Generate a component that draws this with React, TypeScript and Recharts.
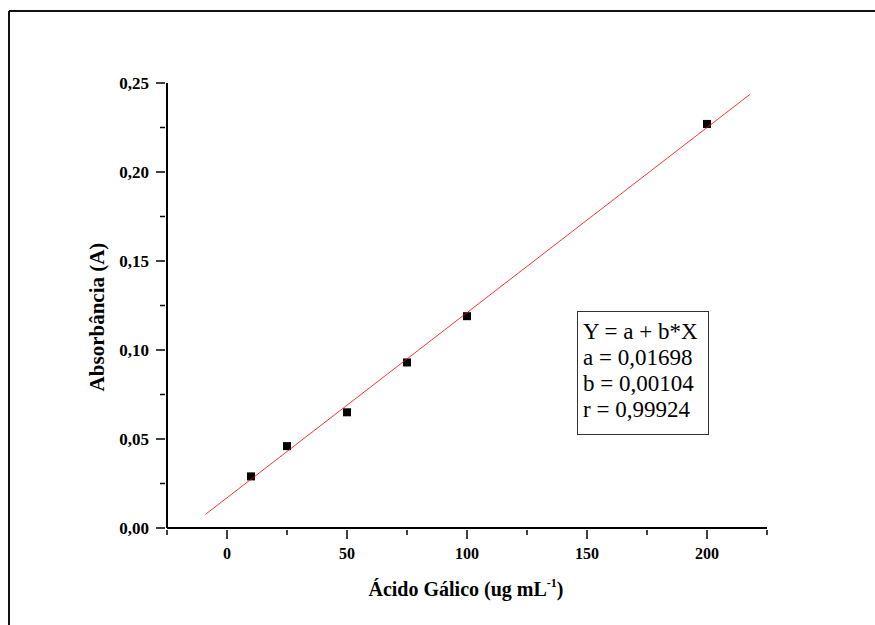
import { ScatterChart, Scatter, XAxis, YAxis } from 'recharts';

// Curva de calibração - ácido gálico
const concentracoes = [10, 25, 50, 75, 100, 200];
const absorbancias = [0.029, 0.046, 0.065, 0.093, 0.119, 0.227];

const xTicks = [-25, 0, 25, 50, 75, 100, 125, 150, 175, 200, 225];
const yTicks = [0, 0.025, 0.05, 0.075, 0.1, 0.125, 0.15, 0.175, 0.2, 0.225, 0.25];

const coefA = 0.01698;
const coefB = 0.00104;
const coefR = 0.99924;
const faixaAjuste = [-9, 218];

const pontos = concentracoes.map((x, i) => ({ x, y: absorbancias[i] }));
const retaAjuste = faixaAjuste.map((x) => ({ x, y: coefA + coefB * x }));

const serif = '"Liberation Serif", "Times New Roman", serif';
const virgula = (v: number, casas: number) => v.toFixed(casas).replace('.', ',');

const YTick = (props: any) => {
  const { x, y, payload } = props;
  const v = payload.value;
  const major = Math.round(v * 1000) % 50 === 0;
  return (
    <g>
      <line x1={x - (major ? 9 : 5)} x2={x} y1={y} y2={y} stroke="#000" strokeWidth={1.5} />
      {major && (
        <text x={x - 16} y={y} dy="0.35em" textAnchor="end" fontFamily={serif} fontWeight="bold" fontSize={17} fill="#000">
          {virgula(v, 2)}
        </text>
      )}
    </g>
  );
};

const XTick = (props: any) => {
  const { x, y, payload } = props;
  const v = payload.value;
  const major = v % 50 === 0;
  return (
    <g>
      <line x1={x} x2={x} y1={y} y2={y + (major ? 9 : 5)} stroke="#000" strokeWidth={1.5} />
      {major && (
        <text x={x} y={y + 29} textAnchor="middle" fontFamily={serif} fontWeight="bold" fontSize={16} fill="#000">
          {v}
        </text>
      )}
    </g>
  );
};

const Quadrado = (props: any) => (
  <rect x={props.cx - 4} y={props.cy - 4} width={8} height={8} fill="#000" />
);

export default function App() {
  return (
    <div style={{ position: 'fixed', left: 0, top: 0, width: 875, height: 625, overflow: 'hidden', background: '#fff' }}>
      <ScatterChart width={875} height={625} margin={{ top: 83, right: 108, bottom: 0, left: 0 }}>
        <XAxis
          dataKey="x"
          type="number"
          domain={[-25, 225]}
          ticks={xTicks}
          interval={0}
          tickSize={0}
          tickLine={false}
          height={97}
          axisLine={{ stroke: '#000', strokeWidth: 2 }}
          tick={<XTick />}
        />
        <YAxis
          dataKey="y"
          type="number"
          domain={[0, 0.25]}
          ticks={yTicks}
          interval={0}
          tickSize={0}
          tickLine={false}
          width={167}
          axisLine={{ stroke: '#000', strokeWidth: 2 }}
          tick={<YTick />}
        />
        <Scatter data={pontos} shape={<Quadrado />} isAnimationActive={false} />
        <Scatter
          data={retaAjuste}
          line={{ stroke: '#ff0000', strokeWidth: 0.8 }}
          shape={() => <g />}
          isAnimationActive={false}
        />
      </ScatterChart>

      <svg width={875} height={625} style={{ position: 'absolute', left: 0, top: 0, pointerEvents: 'none' }}>
        <line x1={9} y1={11} x2={875} y2={11} stroke="#111" strokeWidth={2} />
        <line x1={9} y1={11} x2={9} y2={625} stroke="#111" strokeWidth={2} />
        <text
          x={97}
          y={317}
          transform="rotate(-90 97 317)"
          textAnchor="middle"
          dominantBaseline="central"
          fontFamily={serif}
          fontWeight="bold"
          fontSize={21}
          fill="#000"
        >
          Absorbância (A)
        </text>
        <text x={466} y={596} textAnchor="middle" fontFamily={serif} fontWeight="bold" fontSize={20} fill="#000">
          Ácido Gálico (ug mL
          <tspan fontSize={12} dy={-9}>-1</tspan>
          <tspan dy={9}>)</tspan>
        </text>
        <rect x={577.5} y={311.5} width={131} height={123} fill="#fff" stroke="#333" strokeWidth={1} />
        <g fontFamily={serif} fontSize={23} fill="#000">
          <text x={583} y={339}>Y = a + b*X</text>
          <text x={583} y={365}>a = {virgula(coefA, 5)}</text>
          <text x={583} y={391}>b = {virgula(coefB, 5)}</text>
          <text x={583} y={417}>r = {virgula(coefR, 5)}</text>
        </g>
      </svg>
    </div>
  );
}
